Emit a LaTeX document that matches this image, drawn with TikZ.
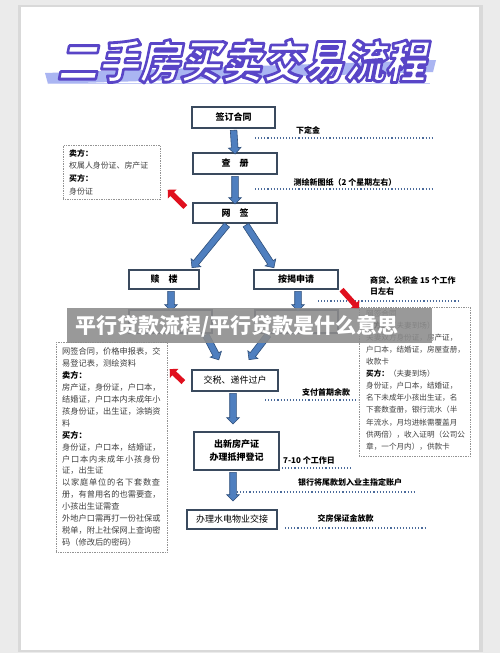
\documentclass[tikz,border=0pt]{standalone}
\usepackage{fontspec}
\setmainfont{Noto Sans CJK SC}
\usetikzlibrary{shapes.arrows,calc}
\definecolor{boxline}{HTML}{3A4A5E}
\definecolor{arrfill}{HTML}{4F7FBF}
\definecolor{arrline}{HTML}{2F4F7A}
\definecolor{dotblue}{HTML}{4A6A9A}
\definecolor{redarr}{HTML}{E0101E}
\definecolor{titlepurple}{HTML}{5A45C8}
\definecolor{stripecol}{HTML}{AAB5F2}
\tikzset{
  flowbox/.style={draw=boxline, line width=1.3pt, fill=white, inner sep=0pt, align=center, font=\fontsize{9}{12}\selectfont\bfseries},
  notebox/.style={draw=gray!85, densely dotted, line width=0.7pt, inner sep=0pt},
  notetext/.style={inner sep=0pt, align=left, text=black!75, anchor=north west},
  steplabel/.style={font=\fontsize{8}{11}\selectfont\bfseries, inner sep=0pt},
  dotline/.style={draw=dotblue, line width=1.1pt, dotted},
  barrow/.style={single arrow, draw=arrline, fill=arrfill, line width=0.6pt, inner sep=3pt, single arrow head extend=3pt, minimum width=12pt},
  rarrow/.style={single arrow, fill=redarr, inner sep=2.5pt, single arrow head extend=3.5pt},
}
\newcommand\flowarrow[3][barrow]{%
  \path let \p1=#2, \p2=#3, \n1={atan2(\y2-\y1,\x2-\x1)}, \n2={veclen(\x2-\x1,\y2-\y1)} in
  node[#1, rotate=\n1, minimum height=\n2] at ($#2!0.5!#3$) {};}
\begin{document}
\begin{tikzpicture}[x=1pt,y=-1pt]
\useasboundingbox (0,0) rectangle (500,653);
\fill[gray!16] (0,0) rectangle (500,653);
\fill[gray!30] (18,5) rectangle (483,652);
\fill[white] (21,7) rectangle (479,650);

% title
\fill[stripecol] (45,73) -- (436,60) -- (433,72) -- (48,84) -- cycle;
\fill[stripecol!70] (48,82.5) rectangle (430,84);
\node[name=title, inner sep=0pt, font=\fontsize{41}{41}\selectfont\bfseries, text=white, xslant=0.2, yscale=1.1, transform shape]
  at (245,61) {\special{pdf:literal direct 2 Tr 2.6 w 1 j 0.35 0.27 0.78 RG}二手房买卖交易流程};

% dotted lines and labels
\draw[dotline] (255,138) -- (433,138);
\draw[dotline] (255,189) -- (433,189);
\draw[dotline] (318,301) -- (458,301);
\draw[dotline] (265,400) -- (358,400);
\draw[dotline] (282,468) -- (353,468);
\draw[dotline] (237,492) -- (415,492);
\draw[dotline] (285,528) -- (427,528);
\node[steplabel] (l1) at (308,130) {下定金};
\node[steplabel] (l2) at (345,182.5) {测绘新图纸（2 个星期左右）};
\node[steplabel, anchor=north west, align=left] (l3) at (370,276) {商贷、公积金 15 个工作\\日左右};
\node[steplabel] (l4) at (326,392) {支付首期余款};
\node[steplabel] (l5) at (309,460) {7-10 个工作日};
\node[steplabel] (l6) at (350,482) {银行将尾款划入业主指定账户};
\node[steplabel] (l7) at (345.5,518) {交房保证金放款};

% flow boxes
\node[flowbox, minimum width=83pt, minimum height=21pt] (sign) at (233.5,117.5) {签订合同};
\node[flowbox, minimum width=84pt, minimum height=21pt] (chace) at (235,163.5) {查　册};
\node[flowbox, minimum width=84pt, minimum height=20pt] (wq) at (235,213) {网　签};
\node[flowbox, minimum width=70pt, minimum height=19pt] (sl) at (164,279.5) {赎　楼};
\node[flowbox, minimum width=84pt, minimum height=19pt] (ajsq) at (296,279.5) {按揭申请};
\node[flowbox, minimum width=83pt, minimum height=23pt] (hideL) at (170.5,321.5) {};
\node[flowbox, minimum width=83pt, minimum height=23pt] (hideR) at (296.5,321.5) {};
\node[flowbox, minimum width=86pt, minimum height=21pt, font=\fontsize{9}{12}\selectfont] (js) at (235,380.5) {交税、递件过户};
\node[flowbox, minimum width=85pt, minimum height=38pt, font=\fontsize{9}{13}\selectfont\bfseries] (cx) at (236.5,451) {出新房产证\\办理抵押登记};
\node[flowbox, minimum width=90pt, minimum height=19pt, font=\fontsize{9}{12}\selectfont] (sd) at (232,519.5) {办理水电物业交接};

% note boxes
\node[notebox, minimum width=97pt, minimum height=54pt, anchor=north west] (n1) at (63,145) {};
\node[notetext, font=\fontsize{7.9}{12.7}\selectfont] (n1t) at (69,149) {\textbf{\color{black}卖方：}\\权属人身份证、房产证\\\textbf{\color{black}买方：}\\身份证};
\node[notebox, minimum width=111pt, minimum height=210pt, anchor=north west] (n2) at (56,342) {};
\node[notetext, font=\fontsize{8.2}{11.93}\selectfont] (n2t) at (62,347.5) {网签合同，价格申报表，交\\易登记表，测绘资料\\\textbf{\color{black}卖方：}\\房产证，身份证，户口本，\\结婚证，户口本内未成年小\\孩身份证，出生证，涂销资\\料\\\textbf{\color{black}买方：}\\身份证，户口本，结婚证，\\\makebox[98pt][s]{户\hfil 口\hfil 本\hfil 内\hfil 未\hfil 成\hfil 年\hfil 小\hfil 孩\hfil 身\hfil 份}\\证，出生证\\\makebox[98pt][s]{以\hfil 家\hfil 庭\hfil 单\hfil 位\hfil 的\hfil 名\hfil 下\hfil 套\hfil 数\hfil 查}\\册，有曾用名的也需要查，\\小孩出生证需查\\外地户口需再打一份社保或\\税单，附上社保网上查询密\\码（修改后的密码）};
\node[notebox, minimum width=111pt, minimum height=149pt, anchor=north west] (n3) at (359,307) {};
\node[notetext, font=\fontsize{7.6}{12.1}\selectfont] (n3t) at (366,309.5) {网签合同\\\textbf{\color{black}卖方：}（夫妻到场）\\夫妻双方身份证，房产证，\\户口本，结婚证，房屋查册，\\收款卡\\\textbf{\color{black}买方：}（夫妻到场）\\身份证，户口本，结婚证，\\名下未成年小孩出生证，名\\下套数查册，银行流水（半\\年流水，月均进帐需覆盖月\\供两倍），收入证明（公司公\\章，一个月内），供款卡};

% blue arrows
\flowarrow{(sign.south)}{(chace.north)}
\flowarrow{(chace.south)}{(wq.north)}
\flowarrow{([xshift=-7pt]wq.south)}{([xshift=29pt,yshift=3pt]sl.north)}
\flowarrow{([xshift=10pt]wq.south)}{([xshift=-23pt,yshift=3pt]ajsq.north)}
\flowarrow{([xshift=7pt]sl.south)}{([xshift=0.5pt]hideL.north)}
\flowarrow{([xshift=2pt]ajsq.south)}{([xshift=1.5pt]hideR.north)}
\flowarrow{([xshift=34.5pt]hideL.south)}{([xshift=-17pt,yshift=11pt]js.north)}
\flowarrow{([xshift=-27.5pt]hideR.south)}{([xshift=15pt,yshift=11pt]js.north)}
\flowarrow{([xshift=-2pt]js.south)}{([xshift=-3.5pt,yshift=9pt]cx.north)}
\flowarrow{([xshift=-3.5pt]cx.south)}{([xshift=1pt,yshift=10pt]sd.north)}

% red arrows
\coordinate (r1t) at ([xshift=-6pt,yshift=5pt]wq.west);
\coordinate (r1h) at ([xshift=8pt,yshift=9pt]n1.south east);
\flowarrow[rarrow]{(r1t)}{(r1h)}
\flowarrow[rarrow]{([xshift=2pt,yshift=1pt]ajsq.south east)}{([xshift=-1pt,yshift=-1pt]n3.north west)}
\coordinate (r3t) at ([xshift=-7pt,yshift=-2.5pt]js.west);
\coordinate (r3h) at ([xshift=3pt,yshift=-28pt]n2.north east);
\flowarrow[rarrow]{(r3t)}{(r3h)}

% overlay banner
\fill[black!45, opacity=0.88] (67,308) rectangle (432,343);
\node[name=banner, inner sep=0pt, text=white, font=\fontsize{21}{21}\selectfont\bfseries] at (237,326) {平行贷款流程/平行贷款是什么意思};
\end{tikzpicture}
\end{document}
